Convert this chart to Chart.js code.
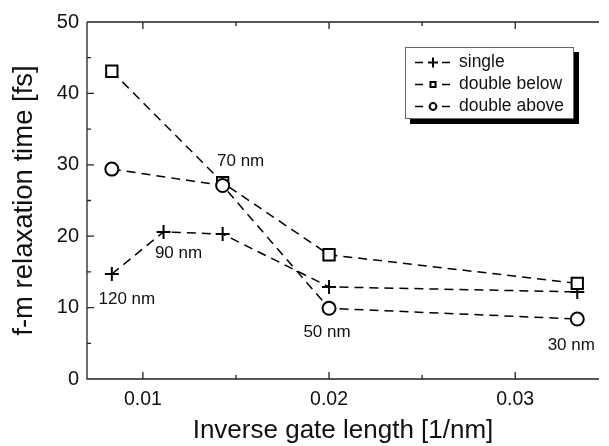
<!DOCTYPE html>
<html>
<head>
<meta charset="utf-8">
<script src="https://cdn.jsdelivr.net/npm/chart.js@4.4.1/dist/chart.umd.min.js"></script>
<style>
  html, body { margin: 0; padding: 0; background: #fff; overflow: hidden; }
  #wrap { width: 609px; height: 446px; position: relative; }
</style>
</head>
<body>
<div id="wrap"><canvas id="chart"></canvas></div>
<script>
// inverse gate length [1/nm] for 120, 90, 70, 50, 30 nm
const inverseAll = [0.008333, 0.011111, 0.014286, 0.02, 0.033333];
const inverseDouble = [0.008333, 0.014286, 0.02, 0.033333];

const single = [14.7, 20.6, 20.3, 12.9, 12.2];
const doubleBelow = [43.1, 27.5, 17.4, 13.4];
const doubleAbove = [29.4, 27.1, 9.9, 8.4];

const seriesNames = ["single", "double below", "double above"];
const pointLabels = ["120 nm", "90 nm", "70 nm", "50 nm", "30 nm"];

const xMajorTicks = [0.01, 0.02, 0.03];
const xMinorTicks = [0.015, 0.025];
const yMajorTicks = [0, 10, 20, 30, 40, 50];
const yMinorTicks = [5, 15, 25, 35, 45];

const FONT = "'Liberation Sans', Arial, Helvetica, sans-serif";
const INK = "#111";

function toPoints(xs, ys) {
  return xs.map((x, i) => ({ x: x, y: ys[i] }));
}

function isMajor(list, v) {
  return list.some(m => Math.abs(m - v) < 1e-9);
}

// frame + inward tick marks (top, bottom, left)
const frameTicks = {
  id: "frameTicks",
  beforeDatasetsDraw(chart) {
    const { ctx, chartArea: a, scales } = chart;
    ctx.save();
    ctx.strokeStyle = "#222";
    ctx.lineWidth = 1.3;
    ctx.beginPath();
    ctx.moveTo(a.left, a.top);
    ctx.lineTo(a.right, a.top);
    ctx.moveTo(a.left, a.top);
    ctx.lineTo(a.left, a.bottom);
    ctx.lineTo(a.right, a.bottom);
    scales.x.ticks.forEach(t => {
      const px = scales.x.getPixelForValue(t.value);
      const len = isMajor(xMajorTicks, t.value) ? 7 : 4;
      ctx.moveTo(px, a.bottom); ctx.lineTo(px, a.bottom - len);
      ctx.moveTo(px, a.top); ctx.lineTo(px, a.top + len);
    });
    scales.y.ticks.forEach(t => {
      const py = scales.y.getPixelForValue(t.value);
      const len = isMajor(yMajorTicks, t.value) ? 7 : 4;
      ctx.moveTo(a.left, py); ctx.lineTo(a.left + len, py);
    });
    ctx.stroke();
    ctx.restore();
  }
};

// size labels next to the points
const sizeLabels = {
  id: "sizeLabels",
  afterDatasetsDraw(chart) {
    const ctx = chart.ctx;
    const anchors = [
      { ds: 0, i: 0, dx: 15, dy: 25 },
      { ds: 0, i: 1, dx: 15, dy: 21 },
      { ds: 2, i: 1, dx: 18, dy: -24 },
      { ds: 2, i: 2, dx: -2, dy: 24 },
      { ds: 2, i: 3, dx: -6, dy: 26 }
    ];
    ctx.save();
    ctx.font = "17px " + FONT;
    ctx.fillStyle = INK;
    ctx.textAlign = "center";
    ctx.textBaseline = "middle";
    anchors.forEach((an, k) => {
      const p = chart.data.datasets[an.ds].data[an.i];
      const px = chart.scales.x.getPixelForValue(p.x);
      const py = chart.scales.y.getPixelForValue(p.y);
      ctx.fillText(pointLabels[k], px + an.dx, py + an.dy);
    });
    ctx.restore();
  }
};

// boxed legend with drop shadow
const boxLegend = {
  id: "boxLegend",
  afterDraw(chart) {
    const ctx = chart.ctx;
    const x0 = 405, y0 = 47, w = 169, h = 72;
    const radii = [5, 3.6, 3.4];
    ctx.save();
    ctx.fillStyle = "#000";
    ctx.fillRect(x0 + 5, y0 + 5, w, h);
    ctx.fillStyle = "#fff";
    ctx.fillRect(x0, y0, w, h);
    ctx.strokeStyle = "#666";
    ctx.lineWidth = 1;
    ctx.strokeRect(x0 + 0.5, y0 + 0.5, w - 1, h - 1);
    chart.data.datasets.forEach((ds, i) => {
      const y = 62.5 + i * 22;
      ctx.strokeStyle = "#000";
      ctx.lineWidth = 1.6;
      ctx.beginPath();
      ctx.moveTo(415, y); ctx.lineTo(423, y);
      ctx.moveTo(442, y); ctx.lineTo(450, y);
      ctx.stroke();
      ctx.lineWidth = 2;
      ctx.fillStyle = "#fff";
      Chart.helpers.drawPoint(ctx, { pointStyle: ds.pointStyle, radius: radii[i], borderWidth: 2, rotation: 0 }, 433, y);
      ctx.fillStyle = INK;
      ctx.font = "17.5px " + FONT;
      ctx.textAlign = "left";
      ctx.textBaseline = "middle";
      ctx.fillText(seriesNames[i], 459, y);
    });
    ctx.restore();
  }
};

function lineSet(label, data, style, radius, order) {
  return {
    label: label,
    data: data,
    order: order,
    borderColor: "#000",
    borderWidth: 1.5,
    borderDash: [9, 6],
    pointStyle: style,
    pointRadius: radius,
    pointHoverRadius: radius,
    pointBorderWidth: 2,
    pointBorderColor: "#000",
    pointBackgroundColor: "#fff",
    tension: 0,
    fill: false
  };
}

new Chart(document.getElementById("chart"), {
  type: "line",
  data: {
    datasets: [
      lineSet(seriesNames[0], toPoints(inverseAll, single), "cross", 7, 2),
      lineSet(seriesNames[1], toPoints(inverseDouble, doubleBelow), "rect", 8, 1),
      lineSet(seriesNames[2], toPoints(inverseDouble, doubleAbove), "circle", 6.5, 0)
    ]
  },
  options: {
    responsive: true,
    maintainAspectRatio: false,
    animation: false,
    layout: { padding: { top: 22, right: 0, bottom: 0, left: 0 } },
    plugins: { legend: { display: false }, tooltip: { enabled: false } },
    scales: {
      x: {
        type: "linear",
        min: 0.007,
        max: 0.0345,
        afterFit: s => { s.height = 67; },
        afterBuildTicks: s => {
          s.ticks = xMajorTicks.concat(xMinorTicks).sort((a, b) => a - b).map(v => ({ value: v }));
        },
        grid: { display: false, drawTicks: false },
        border: { display: false },
        ticks: {
          color: INK,
          padding: 9,
          maxRotation: 0,
          autoSkip: false,
          font: { family: FONT, size: 19.5 },
          callback: v => isMajor(xMajorTicks, v) ? String(Number(v.toFixed(3))) : ""
        },
        title: {
          display: true,
          text: "Inverse gate length [1/nm]",
          color: INK,
          font: { family: FONT, size: 26 },
          padding: { top: 0, bottom: 0 }
        }
      },
      y: {
        type: "linear",
        min: 0,
        max: 50,
        afterFit: s => { s.width = 87; },
        afterBuildTicks: s => {
          s.ticks = yMajorTicks.concat(yMinorTicks).sort((a, b) => a - b).map(v => ({ value: v }));
        },
        grid: { display: false, drawTicks: false },
        border: { display: false },
        ticks: {
          color: INK,
          padding: 8,
          autoSkip: false,
          font: { family: FONT, size: 20 },
          callback: v => isMajor(yMajorTicks, v) ? String(v) : ""
        },
        title: {
          display: true,
          text: "f-m relaxation time [fs]",
          color: INK,
          font: { family: FONT, size: 27.5 },
          padding: { top: 8, bottom: 0 }
        }
      }
    }
  },
  plugins: [frameTicks, sizeLabels, boxLegend]
});
</script>
</body>
</html>
